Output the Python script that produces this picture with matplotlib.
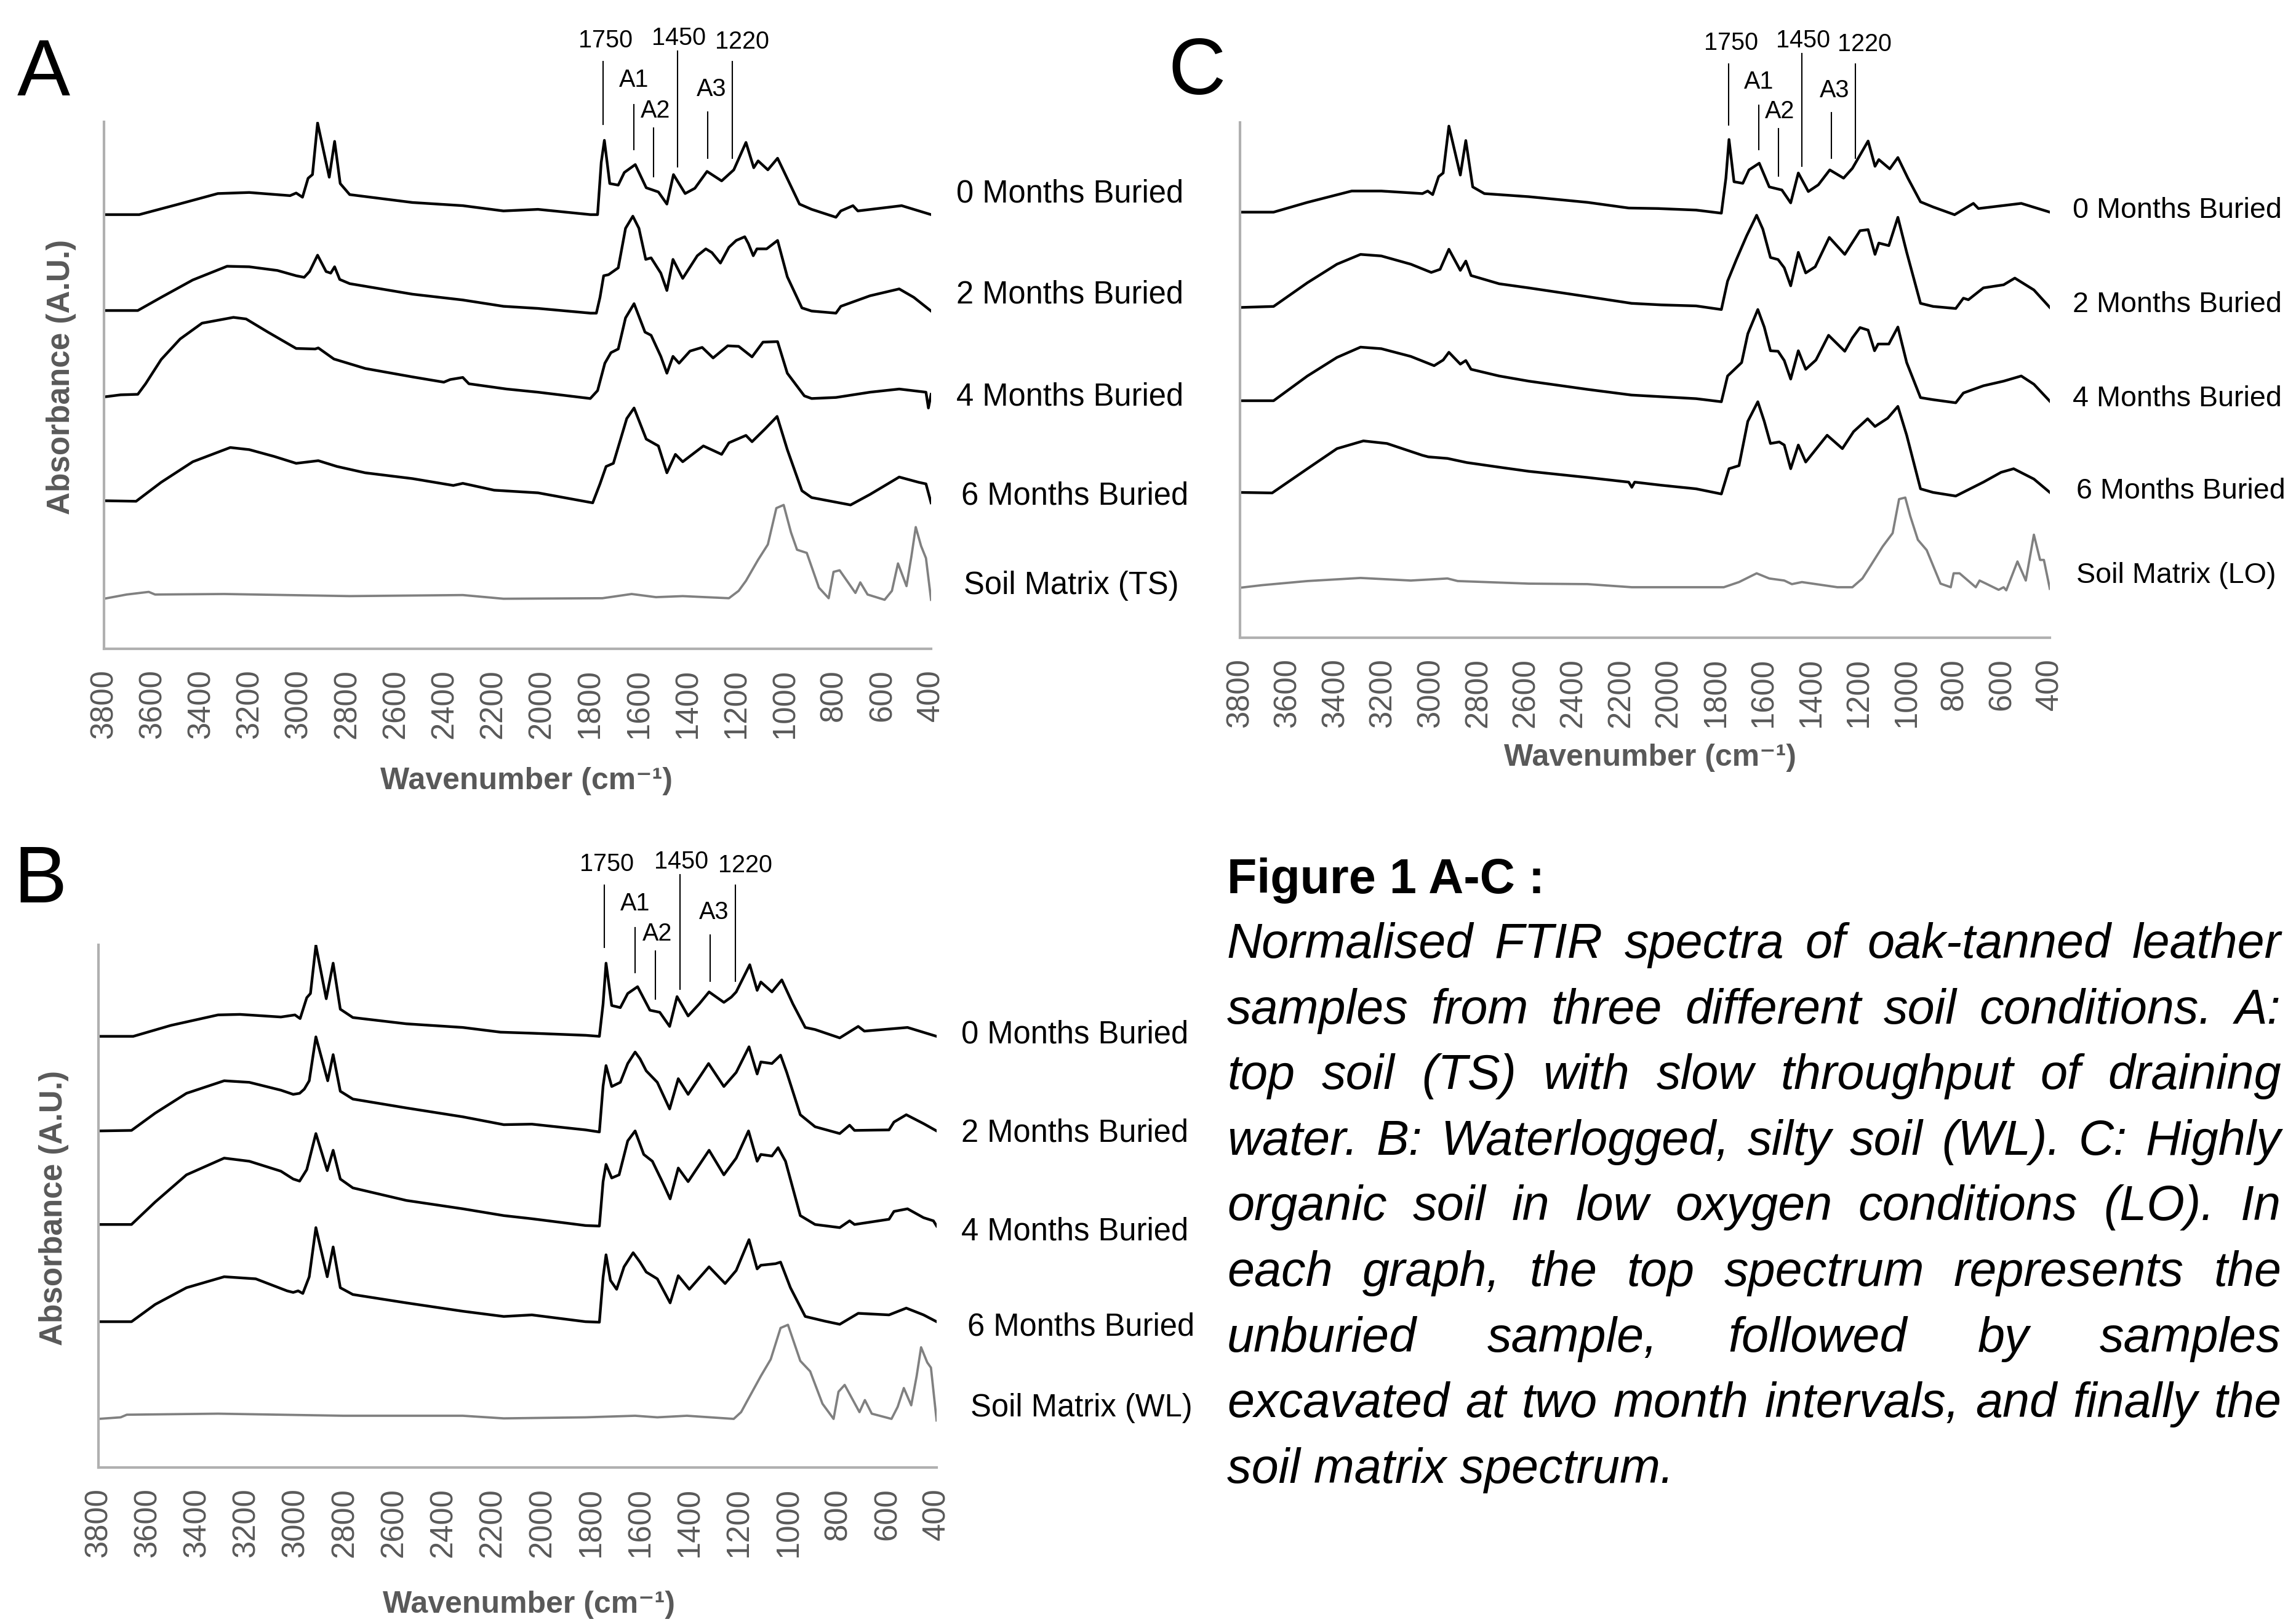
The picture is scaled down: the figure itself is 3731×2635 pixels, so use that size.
#!/usr/bin/python3
import matplotlib
matplotlib.use("Agg")
import matplotlib.pyplot as plt

plt.rcParams["font.family"] = ["Liberation Sans", "DejaVu Sans"]

W, H, DPI = 3731, 2635, 300

# Spectra as (wavenumber cm-1, absorbance A.U.), offset-stacked, 0..100 scale
A_0M = [(3800, 82.4), (3655, 82.4), (3500, 84.3), (3332, 86.4), (3203, 86.6), (3035, 86.0), (3010, 86.5),
        (2984, 85.7), (2961, 89.3), (2943, 90.0), (2922, 99.8), (2874, 89.5), (2852, 96.3), (2829, 88.3),
        (2790, 86.2), (2532, 84.7), (2325, 84.1), (2158, 83.1), (2016, 83.4), (1800, 82.4), (1771, 82.4),
        (1756, 92.3), (1743, 96.5), (1721, 88.3), (1686, 88.0), (1661, 90.4), (1616, 91.9), (1571, 87.5),
        (1521, 86.7), (1486, 84.4), (1459, 90.0), (1411, 86.4), (1371, 87.4), (1321, 90.6), (1261, 88.8),
        (1211, 90.9), (1161, 96.1), (1129, 91.3), (1111, 92.6), (1071, 90.9), (1031, 93.1), (941, 84.4),
        (891, 83.4), (791, 81.9), (771, 83.1), (721, 84.1), (701, 83.1), (521, 84.1), (400, 82.4)]
A_2M = [(3800, 64.2), (3661, 64.2), (3565, 66.7), (3435, 70.0), (3294, 72.6), (3203, 72.5), (3087, 71.8),
        (3010, 70.8), (2977, 70.5), (2955, 71.6), (2922, 74.7), (2887, 71.6), (2868, 71.3), (2852, 72.5),
        (2831, 70.1), (2790, 69.3), (2532, 67.3), (2325, 66.2), (2158, 65.0), (2016, 64.6), (1800, 63.7),
        (1776, 63.7), (1761, 66.7), (1746, 70.8), (1726, 71.0), (1686, 72.3), (1656, 79.8), (1626, 82.1),
        (1601, 79.8), (1573, 73.9), (1551, 74.2), (1511, 71.3), (1486, 68.0), (1461, 73.9), (1421, 70.3),
        (1361, 74.6), (1326, 75.9), (1301, 75.2), (1266, 73.2), (1231, 76.2), (1201, 77.5), (1166, 78.2),
        (1151, 76.9), (1131, 74.6), (1116, 75.9), (1076, 75.9), (1031, 77.5), (991, 70.6), (931, 64.7),
        (891, 64.1), (791, 63.7), (771, 65.0), (651, 67.0), (531, 68.3), (471, 66.7), (400, 64.1)]
A_4M = [(3800, 47.8), (3732, 48.2), (3661, 48.3), (3629, 50.3), (3565, 54.9), (3487, 58.8), (3397, 61.8),
        (3268, 62.9), (3216, 62.6), (3126, 60.1), (3010, 57.0), (2932, 56.9), (2919, 57.1), (2855, 55.0),
        (2726, 53.2), (2532, 51.6), (2403, 50.6), (2377, 51.1), (2325, 51.5), (2300, 50.3), (2145, 49.3),
        (2016, 48.7), (1801, 47.5), (1771, 49.0), (1741, 54.2), (1716, 56.2), (1686, 56.9), (1656, 62.8),
        (1621, 65.5), (1576, 60.1), (1551, 59.5), (1511, 55.5), (1486, 52.3), (1461, 55.5), (1436, 54.2),
        (1391, 56.5), (1341, 57.2), (1296, 55.2), (1236, 57.5), (1191, 57.4), (1136, 55.4), (1091, 58.2),
        (1031, 58.3), (991, 52.3), (921, 48.0), (891, 47.5), (791, 47.7), (651, 48.7), (531, 49.3),
        (421, 48.7), (411, 45.7), (400, 48.3)]
A_6M = [(3800, 28.1), (3668, 28.0), (3565, 31.6), (3435, 35.5), (3281, 38.2), (3203, 37.8), (3100, 36.5),
        (3010, 35.2), (2919, 35.7), (2842, 34.6), (2726, 33.4), (2532, 32.3), (2364, 31.0), (2325, 31.4),
        (2196, 30.1), (2016, 29.6), (1791, 27.7), (1761, 31.3), (1736, 34.6), (1706, 35.2), (1651, 43.7),
        (1621, 45.7), (1571, 39.8), (1521, 38.5), (1486, 33.4), (1451, 36.9), (1421, 35.5), (1336, 38.5),
        (1261, 36.9), (1231, 39.1), (1161, 40.5), (1136, 39.3), (1081, 41.8), (1033, 44.1), (991, 37.8),
        (931, 30.0), (891, 28.7), (731, 27.3), (651, 29.3), (531, 32.6), (451, 31.6), (421, 31.3), (400, 27.7)]
A_SOIL = [(3800, 9.5), (3707, 10.3), (3616, 10.8), (3590, 10.3), (3306, 10.4), (2790, 10.0), (2325, 10.2),
          (2158, 9.5), (1751, 9.6), (1631, 10.4), (1531, 9.8), (1421, 10.0), (1231, 9.6), (1191, 11.0),
          (1161, 12.9), (1111, 16.9), (1071, 19.8), (1036, 26.7), (1021, 27.0), (1006, 27.3), (976, 22.1),
          (951, 18.8), (911, 18.2), (861, 11.6), (821, 9.6), (801, 14.6), (776, 14.9), (711, 10.6),
          (691, 12.6), (661, 10.3), (591, 9.3), (561, 11.0), (536, 16.2), (501, 11.9), (481, 17.5),
          (463, 23.1), (441, 19.5), (421, 17.2), (400, 9.3)]

B_0M = [(3800, 82.5), (3659, 82.5), (3506, 84.6), (3315, 86.6), (3226, 86.7), (3060, 86.2), (3003, 86.6),
        (2982, 85.9), (2955, 89.9), (2940, 90.7), (2918, 99.9), (2876, 89.7), (2848, 96.5), (2819, 87.7),
        (2768, 86.1), (2551, 84.9), (2322, 84.2), (2169, 83.3), (2042, 83.1), (1824, 82.7), (1768, 82.5),
        (1753, 88.7), (1741, 96.5), (1718, 88.4), (1683, 88.0), (1653, 90.7), (1613, 92.0), (1563, 87.5),
        (1523, 87.1), (1483, 84.4), (1453, 90.1), (1408, 86.4), (1363, 88.7), (1323, 91.0), (1263, 89.0),
        (1233, 90.0), (1213, 91.0), (1158, 96.2), (1128, 91.3), (1113, 92.9), (1068, 91.0), (1028, 93.3),
        (983, 88.7), (933, 84.2), (893, 83.8), (793, 82.2), (718, 84.4), (693, 83.5), (518, 84.2), (400, 82.5)]
B_2M = [(3800, 64.4), (3666, 64.5), (3570, 67.8), (3443, 71.6), (3290, 74.0), (3188, 73.7), (3060, 72.2),
        (3010, 71.4), (2984, 71.6), (2965, 72.4), (2945, 74.0), (2918, 82.4), (2870, 74.0), (2848, 79.0),
        (2819, 72.0), (2768, 70.5), (2551, 68.8), (2322, 67.1), (2156, 65.6), (2042, 65.7), (1824, 64.6),
        (1768, 64.2), (1753, 73.0), (1741, 76.9), (1718, 72.9), (1683, 73.7), (1653, 77.3), (1623, 79.5),
        (1603, 78.2), (1578, 75.9), (1533, 73.7), (1483, 68.6), (1448, 74.4), (1408, 71.4), (1325, 77.3),
        (1263, 72.9), (1213, 75.6), (1161, 80.5), (1128, 75.3), (1113, 77.6), (1068, 77.3), (1033, 78.9),
        (1008, 75.6), (953, 67.5), (893, 65.2), (793, 63.9), (753, 65.5), (733, 64.5), (593, 64.6),
        (573, 66.1), (523, 67.5), (453, 65.8), (400, 64.4)]
B_4M = [(3800, 46.5), (3666, 46.5), (3570, 50.8), (3443, 56.0), (3290, 59.2), (3188, 58.6), (3060, 56.7),
        (3010, 55.2), (2984, 54.8), (2955, 57.0), (2918, 63.9), (2872, 56.8), (2848, 60.7), (2819, 55.2),
        (2768, 53.5), (2551, 51.1), (2322, 49.5), (2156, 48.2), (2042, 47.6), (1824, 46.3), (1768, 46.2),
        (1753, 54.7), (1741, 58.0), (1718, 55.4), (1688, 56.0), (1653, 62.5), (1623, 64.4), (1588, 59.9),
        (1553, 58.6), (1513, 54.7), (1481, 51.4), (1448, 57.3), (1408, 54.7), (1323, 60.7), (1263, 56.0),
        (1213, 59.2), (1163, 64.4), (1128, 58.6), (1113, 59.9), (1068, 59.6), (1043, 61.2), (1013, 58.6),
        (953, 48.2), (893, 46.5), (793, 45.9), (753, 47.2), (733, 46.5), (593, 47.5), (573, 49.0),
        (518, 49.5), (453, 47.8), (413, 47.2), (400, 46.2)]
B_6M = [(3800, 27.9), (3666, 27.9), (3570, 31.2), (3443, 34.4), (3290, 36.5), (3162, 36.1), (3035, 33.8),
        (3010, 33.5), (2990, 33.8), (2971, 33.3), (2945, 36.5), (2918, 45.9), (2872, 36.5), (2848, 42.2),
        (2819, 34.4), (2768, 33.1), (2551, 31.5), (2322, 29.9), (2156, 28.9), (2042, 29.2), (1824, 27.9),
        (1768, 27.8), (1753, 36.4), (1741, 40.7), (1723, 35.8), (1698, 34.1), (1668, 38.4), (1631, 41.1),
        (1603, 39.3), (1578, 37.4), (1533, 36.1), (1481, 31.5), (1448, 36.7), (1403, 34.1), (1323, 38.4),
        (1258, 35.2), (1213, 37.7), (1161, 43.6), (1128, 38.0), (1113, 38.7), (1053, 39.0), (1033, 39.3),
        (993, 34.4), (933, 28.9), (853, 28.0), (793, 27.4), (718, 29.5), (593, 29.2), (523, 30.5),
        (453, 29.2), (400, 27.9)]
B_SOIL = [(3800, 9.3), (3710, 9.6), (3685, 10.1), (3315, 10.3), (2806, 9.9), (2322, 9.9), (2156, 9.4),
          (1824, 9.6), (1623, 9.9), (1533, 9.6), (1413, 9.9), (1223, 9.3), (1193, 10.6), (1163, 13.2),
          (1113, 17.5), (1073, 20.7), (1033, 26.7), (1003, 27.3), (953, 20.4), (913, 18.4), (863, 12.2),
          (818, 9.3), (798, 14.5), (773, 15.8), (713, 10.6), (691, 12.9), (663, 10.3), (583, 9.3),
          (558, 11.6), (533, 15.2), (503, 11.9), (481, 17.5), (463, 23.0), (438, 20.1), (423, 19.1), (400, 9.0)]

C_0M = [(3800, 82.6), (3659, 82.6), (3517, 84.5), (3331, 86.7), (3207, 86.7), (3034, 86.2), (3012, 86.7),
        (2991, 86.0), (2966, 89.5), (2947, 90.2), (2923, 99.3), (2875, 89.8), (2852, 96.5), (2823, 87.5),
        (2774, 86.2), (2588, 85.6), (2341, 84.5), (2168, 83.4), (2044, 83.3), (1885, 83.0), (1779, 82.4),
        (1760, 89.2), (1747, 96.7), (1726, 88.5), (1689, 88.2), (1663, 90.8), (1620, 92.1), (1578, 87.5),
        (1525, 86.9), (1488, 84.4), (1456, 90.2), (1414, 86.6), (1372, 87.9), (1324, 90.8), (1266, 89.2),
        (1229, 91.1), (1163, 96.4), (1134, 91.5), (1118, 92.8), (1072, 91.0), (1038, 93.2), (996, 89.2),
        (943, 84.6), (890, 83.6), (800, 82.1), (721, 84.3), (700, 83.3), (520, 84.3), (400, 82.6)]
C_2M = [(3800, 64.1), (3659, 64.3), (3517, 68.9), (3393, 72.5), (3294, 74.4), (3207, 74.1), (3083, 72.5),
        (2997, 70.9), (2960, 71.5), (2923, 75.4), (2875, 71.3), (2852, 73.1), (2830, 70.3), (2712, 68.7),
        (2588, 67.9), (2341, 66.2), (2156, 64.9), (2032, 64.6), (1885, 64.4), (1779, 63.7), (1753, 69.2),
        (1716, 73.4), (1673, 78.0), (1631, 82.0), (1605, 79.3), (1573, 73.8), (1541, 73.4), (1515, 71.8),
        (1488, 68.3), (1456, 74.8), (1425, 70.8), (1385, 72.0), (1326, 77.7), (1261, 74.4), (1197, 79.0),
        (1163, 79.2), (1134, 74.4), (1118, 76.6), (1076, 76.1), (1038, 81.6), (1001, 74.8), (943, 64.9),
        (890, 64.3), (795, 63.9), (763, 65.9), (742, 65.6), (679, 67.9), (594, 68.5), (547, 69.8),
        (467, 67.5), (400, 64.1)]
C_4M = [(3800, 46.0), (3659, 46.0), (3517, 50.8), (3393, 54.4), (3294, 56.4), (3207, 56.1), (3083, 54.6),
        (2985, 52.8), (2947, 53.9), (2923, 55.4), (2875, 53.1), (2852, 53.8), (2830, 52.1), (2712, 50.8),
        (2588, 49.8), (2341, 48.2), (2156, 47.1), (1885, 46.4), (1779, 45.8), (1753, 50.8), (1694, 53.4),
        (1668, 59.0), (1626, 63.7), (1599, 60.3), (1573, 55.7), (1541, 55.6), (1515, 53.8), (1488, 50.2),
        (1456, 55.7), (1425, 52.1), (1382, 53.9), (1329, 58.7), (1261, 55.6), (1229, 58.2), (1197, 60.2),
        (1163, 59.7), (1136, 55.7), (1121, 57.0), (1076, 57.0), (1038, 60.3), (1001, 53.4), (943, 46.6),
        (890, 46.2), (795, 45.6), (763, 47.5), (679, 48.9), (594, 49.8), (520, 50.8), (467, 49.2), (400, 45.9)]
C_6M = [(3800, 28.2), (3665, 28.1), (3517, 32.8), (3393, 36.7), (3282, 38.2), (3183, 37.7), (3034, 35.4),
        (3009, 35.1), (2929, 34.8), (2848, 34.0), (2712, 33.1), (2588, 32.3), (2341, 31.1), (2168, 30.2),
        (2155, 29.2), (2143, 30.2), (2032, 29.6), (1885, 28.9), (1779, 27.9), (1747, 32.8), (1705, 33.4),
        (1668, 42.0), (1626, 45.8), (1599, 42.0), (1573, 37.7), (1536, 38.0), (1515, 37.4), (1488, 32.8),
        (1456, 37.4), (1425, 34.1), (1335, 39.3), (1271, 36.7), (1224, 40.0), (1165, 42.5), (1134, 41.0),
        (1081, 42.6), (1038, 44.9), (1001, 39.3), (943, 28.9), (890, 28.2), (795, 27.5), (679, 30.2),
        (605, 32.1), (552, 32.8), (467, 30.8), (400, 28.2)]
C_SOIL = [(3800, 9.7), (3708, 10.2), (3517, 11.0), (3294, 11.6), (3083, 11.1), (2929, 11.5), (2886, 11.0),
          (2588, 10.5), (2341, 10.4), (2155, 9.8), (1769, 9.8), (1705, 10.8), (1631, 12.5), (1578, 11.5),
          (1515, 11.1), (1483, 10.4), (1441, 10.8), (1292, 9.8), (1229, 9.8), (1187, 11.5), (1155, 13.8),
          (1102, 17.7), (1060, 20.3), (1033, 26.9), (1007, 27.2), (986, 23.6), (954, 19.0), (917, 17.0),
          (859, 10.5), (816, 9.8), (804, 12.5), (779, 12.5), (711, 9.8), (695, 11.1), (668, 10.5),
          (615, 9.3), (594, 9.8), (583, 9.2), (536, 14.8), (501, 11.1), (467, 20.0), (441, 15.1),
          (425, 15.1), (400, 9.5)]

X_TICKS = list(range(3800, 399, -200))
MONTH_LABELS = ["0 Months Buried", "2 Months Buried", "4 Months Buried", "6 Months Buried"]
SOIL_LABELS = ["Soil Matrix (TS)", "Soil Matrix (WL)", "Soil Matrix (LO)"]
PEAK_NAMES = ["1750", "A1", "A2", "1450", "A3", "1220"]
PEAK_WN = [1748, 1622, 1540, 1442, 1318, 1216]

CAPTION_TITLE = "Figure 1 A-C :"
CAPTION_LINES = [
    "Normalised FTIR spectra of oak-tanned leather",
    "samples from three different soil conditions. A:",
    "top soil (TS) with slow throughput of draining",
    "water. B: Waterlogged, silty soil (WL). C: Highly",
    "organic soil in low oxygen conditions (LO). In",
    "each graph, the top spectrum represents the",
    "unburied sample, followed by samples",
    "excavated at two month intervals, and finally the",
    "soil matrix spectrum.",
]

# layout, in output pixels
PANELS = [
    dict(name="A", spectra=[A_0M, A_2M, A_4M, A_6M], soil=A_SOIL, soil_label=SOIL_LABELS[0],
         box=(169, 198, 1513, 1054), letter=(28, 155), ylab=(100, 612), xlab=(856, 1269),
         label_size=12.2,
         labels=[(1554, 315), (1554, 479), (1554, 645), (1562, 806), (1566, 952)]),
    dict(name="B", spectra=[B_0M, B_2M, B_4M, B_6M], soil=B_SOIL, soil_label=SOIL_LABELS[1],
         box=(160, 1535, 1522, 2384), letter=(22, 1466), ylab=(88, 1962), xlab=(860, 2607),
         label_size=12.2,
         labels=[(1562, 1681), (1562, 1841), (1562, 2001), (1572, 2156), (1577, 2288)]),
    dict(name="C", spectra=[C_0M, C_2M, C_4M, C_6M], soil=C_SOIL, soil_label=SOIL_LABELS[2],
         box=(2015, 199, 3331, 1036), letter=(1898, 153), ylab=None, xlab=(2681, 1231),
         label_size=11.2,
         labels=[(3368, 342), (3368, 495), (3368, 648), (3374, 798), (3374, 935)]),
]
# peak marker geometry in A.U. (line bottom, line top) and text position (wavenumber, A.U.)
PEAK_LINES = [(99.5, 111.4), (94.7, 103.3), (89.6, 98.8), (91.5, 113.4), (93.1, 101.9), (93.1, 111.4)]
PEAK_TEXT_POS = [(1738, 115.4), (1622, 107.9), (1533, 102.1), (1437, 115.9), (1303, 106.2), (1177, 115.2)]

GREY_TEXT = "#595959"
AXIS_GREY = "#b0b0b0"


def fx(px):
    return px / W


def fy(py):
    return 1 - py / H


def main():
    fig = plt.figure(figsize=(W / DPI, H / DPI), dpi=DPI, facecolor="white")

    for p in PANELS:
        x0, y0, x1, y1 = p["box"]
        ax = fig.add_axes([fx(x0), fy(y1), (x1 - x0) / W, (y1 - y0) / H])
        ax.set_xlim(3800, 400)
        ax.set_ylim(0, 100)
        for s in ["top", "right"]:
            ax.spines[s].set_visible(False)
        for s in ["left", "bottom"]:
            ax.spines[s].set_color(AXIS_GREY)
            ax.spines[s].set_linewidth(1.0)
        ax.set_yticks([])
        ax.set_xticks(X_TICKS)
        ax.set_xticklabels([str(t) for t in X_TICKS], rotation=90)
        ax.tick_params(axis="x", length=0, pad=8, labelsize=12.2, labelcolor=GREY_TEXT)

        for spec in p["spectra"]:
            wn = [a for a, b in spec]
            ab = [b for a, b in spec]
            ax.plot(wn, ab, color="black", lw=1.05, solid_joinstyle="round")
        wn = [a for a, b in p["soil"]]
        ab = [b for a, b in p["soil"]]
        ax.plot(wn, ab, color="#808080", lw=0.9, solid_joinstyle="round")

        for name, w, (lo, hi), (tx, ty) in zip(PEAK_NAMES, PEAK_WN, PEAK_LINES, PEAK_TEXT_POS):
            ax.plot([w, w], [lo, hi], color="black", lw=0.5, clip_on=False)
            ax.text(tx, ty, name, fontsize=9.5, ha="center", va="center", clip_on=False)

        texts = MONTH_LABELS + [p["soil_label"]]
        for t, (lx, ly) in zip(texts, p["labels"]):
            fig.text(fx(lx), fy(ly), t, fontsize=p["label_size"], ha="left", va="center")

        fig.text(fx(p["letter"][0]), fy(p["letter"][1]), p["name"], fontsize=31,
                 ha="left", va="baseline")
        if p["ylab"] is not None:
            fig.text(fx(p["ylab"][0]), fy(p["ylab"][1]), "Absorbance (A.U.)", fontsize=12.3,
                     fontweight="bold", color=GREY_TEXT, rotation=90, ha="center", va="center")
        fig.text(fx(p["xlab"][0]), fy(p["xlab"][1]), "Wavenumber (cm\u207b\u00b9)", fontsize=12,
                 fontweight="bold", color=GREY_TEXT, ha="center", va="center")

    # caption, justified
    left, right = 1994, 3707
    fig.text(fx(left), fy(1451), CAPTION_TITLE, fontsize=19, fontweight="bold",
             ha="left", va="baseline")
    renderer = fig.canvas.get_renderer()
    for i, line in enumerate(CAPTION_LINES):
        base = 1556 + i * 106.6
        words = line.split()
        if i == len(CAPTION_LINES) - 1:
            fig.text(fx(left), fy(base), line, fontsize=19, style="italic",
                     ha="left", va="baseline")
            continue
        arts = [fig.text(0, 0, w, fontsize=19, style="italic", ha="left", va="baseline")
                for w in words]
        widths = [a.get_window_extent(renderer).width for a in arts]
        gap = (right - left - sum(widths)) / (len(words) - 1)
        x = left
        for a, wdt in zip(arts, widths):
            a.set_position((fx(x), fy(base)))
            x += wdt + gap

    fig.savefig("out.png", dpi=DPI, facecolor="white")


if __name__ == "__main__":
    main()
